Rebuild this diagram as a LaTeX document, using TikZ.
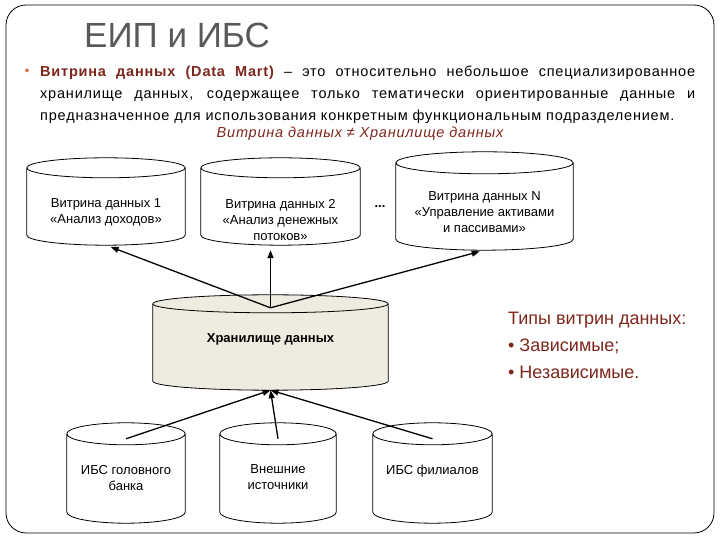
\documentclass[tikz,border=0pt]{standalone}
\usepackage{fontspec}
\setmainfont{Liberation Sans}
\newfontfamily\eipspaced{Liberation Sans}[LetterSpace=5.5]
\usetikzlibrary{arrows.meta,positioning,calc}
\definecolor{eipred}{RGB}{125,38,28}
\definecolor{eipgray}{RGB}{89,89,89}
\definecolor{eipbullet}{RGB}{205,120,70}
\definecolor{eipfill}{RGB}{238,235,224}

\begin{document}
\begin{tikzpicture}[x=1pt,y=1pt,
  eipdb/.style 2 args={minimum width=#1,minimum height=#2,inner sep=0pt},
  eipline/.style={line width=0.8pt},
  eipcyltext/.style={anchor=north,align=center,inner sep=0pt,font=\fontsize{13}{16}\selectfont},
  eiparr/.style={-{Triangle[length=8pt,width=6pt]},line width=1.3pt}
]
  \useasboundingbox (0,0) rectangle (720,540);
  % Slide frame
  \draw[eipline,rounded corners=20pt] (6,7) rectangle (714,535);

  % Title and definition
  \node[font=\fontsize{35}{40}\selectfont,text=eipgray] (title) at (177,505) {ЕИП и ИБС};
  \node[text=eipbullet,font=\fontsize{14}{22}\selectfont] (bullet) at (27,468) {•};
  \node[anchor=north west,text width=655pt,align=justify,inner sep=0pt,
    font=\eipspaced\fontsize{14.5}{22}\selectfont] (def) at (40,474) {
    {\bfseries\color{eipred}Витрина данных (Data Mart)} – это относительно небольшое специализированное\linebreak
    хранилище данных, содержащее только тематически ориентированные данные и\linebreak
    предназначенное для использования конкретным функциональным подразделением.};
  \node[text=eipred,font=\eipspaced\fontsize{14.5}{16}\selectfont\itshape] (neq) at (360,406)
    {Витрина данных ≠ Хранилище данных};

  % Data marts
  \node[eipdb={158pt}{87pt}] (dm1) at (106,338.5) {};
  \node[eipdb={159pt}{87pt}] (dm2) at (280.5,338.5) {};
  \node[eipdb={177pt}{98pt}] (dmn) at (484.5,339) {};
  \node[font=\fontsize{13}{15}\selectfont\bfseries] (dots) at (380,333) {...};

  % Warehouse
  \node[eipdb={235pt}{95pt}] (wh) at (270.5,197.5) {};

  % Sources
  \node[eipdb={118pt}{100pt}] (src1) at (126,67) {};
  \node[eipdb={116pt}{100pt}] (src2) at (278,67) {};
  \node[eipdb={119pt}{100pt}] (src3) at (432.5,67) {};

  % Cylinder outlines
  \foreach \db/\ry/\col in {dm1/10/white,dm2/10/white,dmn/11/white,wh/9/eipfill,
      src1/11/white,src2/11/white,src3/11/white}{
    \draw[eipline,fill=\col] let \p1=(\db.north west), \p2=(\db.south east),
        \n1={(\x2-\x1)/2} in
      (\x1,\y1-\ry pt) -- (\x1,\y2+\ry pt)
        arc[start angle=180,end angle=360,x radius=\n1,y radius=\ry pt]
        -- (\x2,\y1-\ry pt)
        arc[start angle=0,end angle=180,x radius=\n1,y radius=\ry pt] -- cycle
      (\x1,\y1-\ry pt) arc[start angle=180,end angle=360,x radius=\n1,y radius=\ry pt];
  }

  % Cylinder labels
  \node[eipcyltext] (dm1t) at ([yshift=-41pt]dm1.north) {Витрина данных 1\\«Анализ доходов»};
  \node[eipcyltext] (dm2t) at ([yshift=-41pt]dm2.north) {Витрина данных 2\\«Анализ денежных\\потоков»};
  \node[eipcyltext] (dmnt) at ([yshift=-40pt]dmn.north) {Витрина данных N\\«Управление активами\\и пассивами»};
  \node[eipcyltext,font=\fontsize{13}{16}\selectfont\bfseries] (wht) at ([yshift=-39pt]wh.north) {Хранилище данных};
  \node[eipcyltext] (src1t) at ([yshift=-42pt]src1.north) {ИБС головного\\банка};
  \node[eipcyltext] (src2t) at ([yshift=-42pt]src2.north) {Внешние\\источники};
  \node[eipcyltext] (src3t) at ([yshift=-42pt]src3.north) {ИБС филиалов};

  % Arrows
  \coordinate (whc) at ([yshift=-13pt]wh.north);
  \draw[eiparr,shorten >=5pt] (whc) -- (dm1.south);
  \draw[eiparr,shorten >=5pt] (whc) -- (whc |- dm2.south);
  \draw[eiparr,shorten >=5pt] (whc) -- (dmn.south);
  \draw[eiparr] ([yshift=-16pt]src1.north) -- (wh.south);
  \draw[eiparr] ([yshift=-16pt]src2.north) -- (wh.south);
  \draw[eiparr] ([yshift=-16pt]src3.north) -- (wh.south);

  % Types
  \node[anchor=north west,align=left,inner sep=0pt,text=eipred,
    font=\fontsize{18}{27}\selectfont] (types) at (508,228)
    {Типы витрин данных:\\• Зависимые;\\• Независимые.};
\end{tikzpicture}
\end{document}
